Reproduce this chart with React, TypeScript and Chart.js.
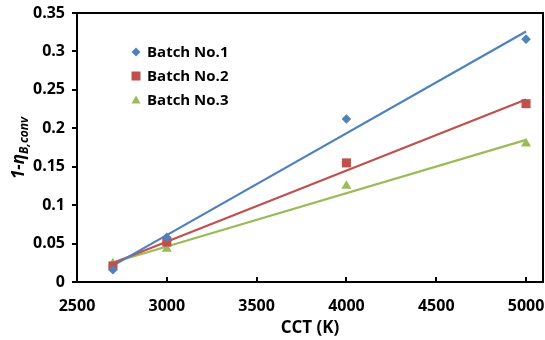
import React, { useEffect, useRef } from "react";
import { Chart, registerables } from "chart.js";
Chart.register(...registerables);

const cct = [2700, 3000, 4000, 5000];
const batch1 = [0.016, 0.058, 0.212, 0.316];
const batch2 = [0.021, 0.052, 0.155, 0.232];
const batch3 = [0.024, 0.043, 0.125, 0.18];
const seriesLabels = ["Batch No.1", "Batch No.2", "Batch No.3"];
const seriesColors = ["#4F81BD", "#C0504D", "#9BBB59"];
const seriesMarkers = ["rectRot", "rect", "triangle"];
const markerRadius = [4.8, 6.4, 5.8];
const xTicks = [2500, 3000, 3500, 4000, 4500, 5000];
const yTicks = [0, 0.05, 0.1, 0.15, 0.2, 0.25, 0.3, 0.35];
const xTitle = "CCT (K)";
const yTitleMain = "1-η";
const yTitleSub = "B,conv";

const FONT = "'Open Sans', sans-serif";

function linearFit(xs: number[], ys: number[]) {
  const n = xs.length;
  const mx = xs.reduce((a, b) => a + b, 0) / n;
  const my = ys.reduce((a, b) => a + b, 0) / n;
  let sxy = 0, sxx = 0;
  for (let i = 0; i < n; i++) {
    sxy += (xs[i] - mx) * (ys[i] - my);
    sxx += (xs[i] - mx) * (xs[i] - mx);
  }
  const slope = sxy / sxx;
  const icpt = my - slope * mx;
  const x0 = Math.min(...xs), x1 = Math.max(...xs);
  return [
    { x: x0, y: icpt + slope * x0 },
    { x: x1, y: icpt + slope * x1 },
  ];
}

export default function App() {
  const ref = useRef<HTMLCanvasElement | null>(null);
  useEffect(() => {
    document.body.style.margin = "0";
    const series = [batch1, batch2, batch3];
    const pointSets = series.map((ys, i) => ({
      type: "scatter" as const,
      label: seriesLabels[i],
      data: cct.map((x, j) => ({ x, y: ys[j] })),
      backgroundColor: seriesColors[i],
      borderColor: seriesColors[i],
      pointStyle: seriesMarkers[i],
      pointRadius: markerRadius[i],
      borderWidth: 0,
      showLine: false,
      order: 1,
    }));
    const trendSets = series.map((ys, i) => ({
      type: "line" as const,
      label: seriesLabels[i] + " trend",
      data: linearFit(cct, ys),
      borderColor: seriesColors[i],
      borderWidth: 2.2,
      pointRadius: 0,
      fill: false,
      order: 2,
    }));

    const framePlugin = {
      id: "frame",
      afterDraw(chart: any) {
        const { ctx, chartArea: a, scales } = chart;
        const xs = scales.x, ys = scales.y;
        ctx.save();
        ctx.strokeStyle = "#000";
        ctx.lineWidth = 2;
        ctx.strokeRect(a.left, a.top, a.right - a.left - 1, a.bottom - a.top);
        ctx.beginPath();
        yTicks.forEach((v) => {
          const py = Math.round(ys.getPixelForValue(v));
          ctx.moveTo(a.left - 5, py);
          ctx.lineTo(a.left, py);
        });
        xTicks.forEach((v) => {
          const px = Math.round(xs.getPixelForValue(v));
          ctx.moveTo(px, a.bottom);
          ctx.lineTo(px, a.bottom - 5);
        });
        ctx.stroke();

        // x tick labels
        ctx.fillStyle = "#000";
        ctx.textAlign = "center";
        ctx.textBaseline = "middle";
        ctx.font = `bold 16px ${FONT}`;
        xTicks.forEach((v) => {
          ctx.fillText(String(v), xs.getPixelForValue(v), a.bottom + 24);
        });

        // legend
        ctx.textBaseline = "middle";
        ctx.font = `bold 15px ${FONT}`;
        const rows = [52, 76, 100];
        seriesLabels.forEach((lab, i) => {
          const cx = 136, cy = rows[i];
          ctx.fillStyle = seriesColors[i];
          ctx.beginPath();
          if (i === 0) {
            ctx.moveTo(cx, cy - 4.5);
            ctx.lineTo(cx + 4.5, cy);
            ctx.lineTo(cx, cy + 4.5);
            ctx.lineTo(cx - 4.5, cy);
          } else if (i === 1) {
            ctx.rect(cx - 4.5, cy - 4.5, 9, 9);
          } else {
            ctx.moveTo(cx, cy - 4.5);
            ctx.lineTo(cx + 4.5, cy + 3.5);
            ctx.lineTo(cx - 4.5, cy + 3.5);
          }
          ctx.closePath();
          ctx.fill();
          ctx.fillStyle = "#000";
          ctx.textAlign = "left";
          ctx.fillText(lab, 147, cy + 1);
        });

        // x title
        ctx.textAlign = "center";
        ctx.textBaseline = "alphabetic";
        ctx.font = `bold 17px ${FONT}`;
        ctx.fillText(xTitle, 310, 333);

        // y title rotated
        ctx.translate(24, 148);
        ctx.rotate(-Math.PI / 2);
        ctx.font = `italic bold 17px ${FONT}`;
        const w1 = ctx.measureText(yTitleMain).width;
        ctx.font = `italic bold 12px ${FONT}`;
        const w2 = ctx.measureText(yTitleSub).width;
        const start = -(w1 + w2) / 2;
        ctx.textAlign = "left";
        ctx.font = `italic bold 17px ${FONT}`;
        ctx.fillText(yTitleMain, start, 0);
        ctx.font = `italic bold 12px ${FONT}`;
        ctx.fillText(yTitleSub, start + w1, 4);
        ctx.restore();
      },
    };

    const chart = new Chart(ref.current as HTMLCanvasElement, {
      type: "scatter",
      data: { datasets: [...pointSets, ...trendSets] as any },
      options: {
        responsive: false,
        animation: false,
        layout: { autoPadding: false, padding: { top: 13, right: 1, left: 0, bottom: 0 } },
        plugins: { legend: { display: false }, tooltip: { enabled: false }, title: { display: false } },
        scales: {
          x: {
            type: "linear",
            min: 2500,
            max: 5100,
            grid: { display: false, drawTicks: false },
            border: { display: false },
            afterBuildTicks: (s: any) => { s.ticks = xTicks.map((v) => ({ value: v })); },
            afterFit: (s: any) => {
              s.height = 58;
              s.paddingLeft = 0; s.paddingRight = 0; s.paddingTop = 0; s.paddingBottom = 0;
            },
            ticks: { display: false },
          },
          y: {
            type: "linear",
            min: 0,
            max: 0.35,
            grid: { display: false, drawTicks: false },
            border: { display: false },
            afterBuildTicks: (s: any) => { s.ticks = yTicks.map((v) => ({ value: v })); },
            afterFit: (s: any) => {
              s.width = 77;
              s.paddingLeft = 0; s.paddingRight = 0; s.paddingTop = 0; s.paddingBottom = 0;
            },
            ticks: {
              color: "#000",
              padding: 12,
              font: { family: FONT, size: 16, weight: "bold" },
              callback: (v: any) => String(Number(Number(v).toFixed(2))),
            },
          },
        },
      },
      plugins: [framePlugin],
    });
    return () => chart.destroy();
  }, []);
  return (
    <div style={{ width: 545, height: 340 }}>
      <canvas ref={ref} width={545} height={340} style={{ display: "block" }} />
    </div>
  );
}
